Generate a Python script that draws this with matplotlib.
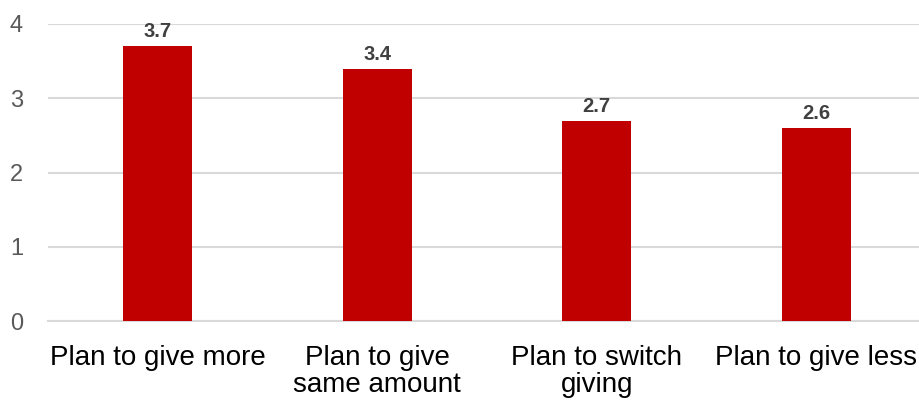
import matplotlib
matplotlib.use("Agg")
import matplotlib.pyplot as plt

categories = ["Plan to give more", "Plan to give\nsame amount", "Plan to switch\ngiving", "Plan to give less"]
values = [3.7, 3.4, 2.7, 2.6]
y_ticks = [0, 1, 2, 3, 4]

plt.rcParams["font.family"] = ["Liberation Sans", "DejaVu Sans"]

fig = plt.figure(figsize=(9.2, 4.01), dpi=100)
ax = fig.add_axes([48 / 920, 1 - 321 / 401, 878 / 920, 297 / 401])

x = range(len(categories))
bars = ax.bar(x, values, width=0.315, color="#c00000", zorder=3)

for rect, v in zip(bars, values):
    ax.annotate(f"{v:.1f}", (rect.get_x() + rect.get_width() / 2, v),
                xytext=(0, 3.5), textcoords="offset points",
                ha="center", va="bottom", fontsize=14.5, fontweight="bold",
                color="#404040")

ax.set_xlim(-0.5, len(categories) - 0.5)
ax.set_ylim(0, 4)
ax.set_yticks(y_ticks)
ax.set_xticks(list(x))
ax.set_xticklabels(categories, fontsize=20, color="black", linespacing=1.05)
ax.tick_params(axis="x", length=0, pad=17)
ax.tick_params(axis="y", length=0, pad=18, labelsize=17, labelcolor="#595959")

ax.grid(axis="y", color="#d9d9d9", linewidth=1.5, zorder=0)
for s in ["top", "right", "left"]:
    ax.spines[s].set_visible(False)
ax.spines["bottom"].set_color("#d9d9d9")
ax.spines["bottom"].set_linewidth(1.5)

fig.savefig("out.png", dpi=100)
